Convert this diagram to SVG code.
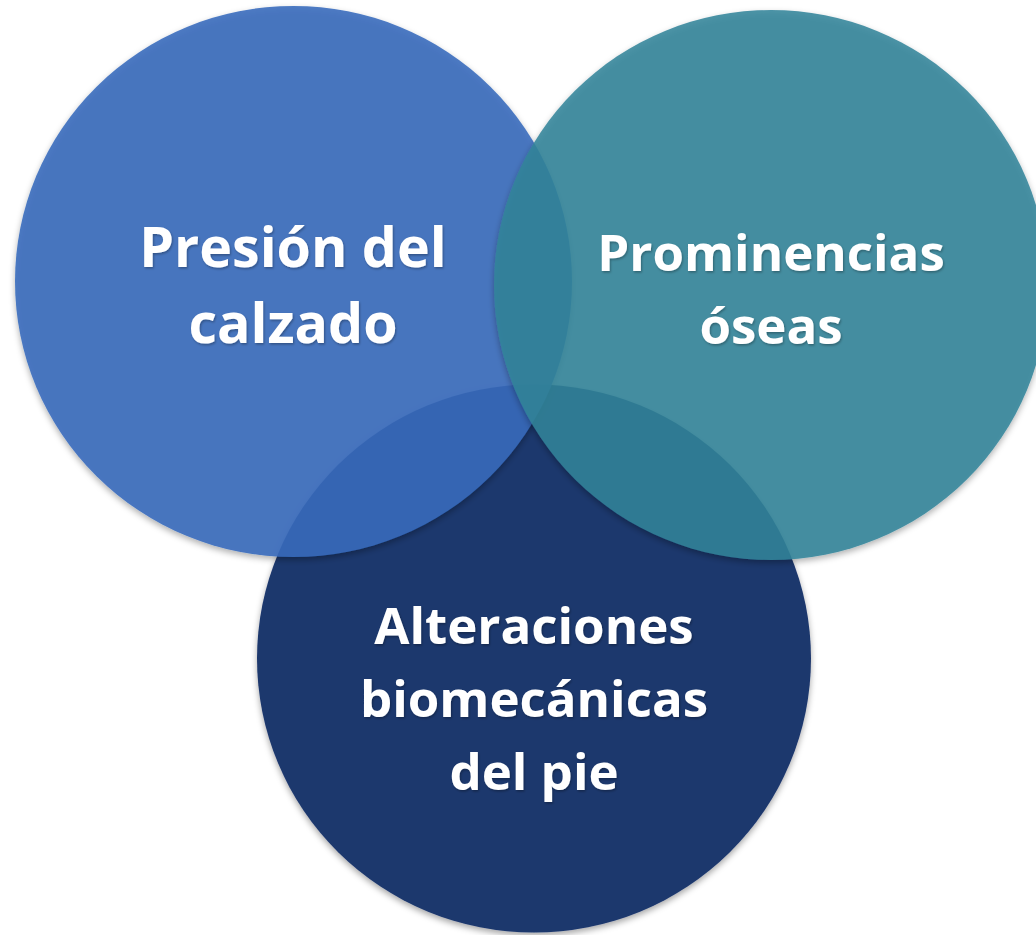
<svg xmlns="http://www.w3.org/2000/svg" width="1036" height="935" viewBox="0 0 1036 935">
<defs>
<filter id="sh" x="-10%" y="-10%" width="120%" height="125%">
<feDropShadow dx="0" dy="3" stdDeviation="3" flood-color="#000" flood-opacity="0.35"/>
</filter>
<filter id="tsh" x="-10%" y="-20%" width="120%" height="150%">
<feDropShadow dx="1" dy="1.5" stdDeviation="1.2" flood-color="#000" flood-opacity="0.3"/>
</filter>
</defs>
<style>
.lbl{font-family:"Open Sans","DejaVu Sans",sans-serif;font-weight:bold;font-size:51px;fill:#ffffff;text-anchor:middle;filter:url(#tsh)}
.big{font-size:55.5px}
</style>
<rect width="1036" height="935" fill="#ffffff"/>
<g id="node-alteraciones">
<ellipse cx="534" cy="658.5" rx="277" ry="274" fill="#1e386d" filter="url(#sh)"/>
</g>
<g id="node-presion">
<ellipse cx="293.5" cy="281.5" rx="278.5" ry="275.5" fill="#376bbc" fill-opacity="0.885" filter="url(#sh)"/>
</g>
<g id="node-prominencias">
<ellipse cx="771" cy="285" rx="277" ry="275" fill="#33849a" fill-opacity="0.865" filter="url(#sh)"/>
</g>
<g id="labels">
<text class="lbl big" x="293" y="267">Presión del</text>
<text class="lbl big" x="293" y="343">calzado</text>
<text class="lbl" x="771" y="271">Prominencias</text>
<text class="lbl" x="771" y="344">óseas</text>
<text class="lbl" x="534" y="644">Alteraciones</text>
<text class="lbl" x="534" y="717">biomecánicas</text>
<text class="lbl" x="534" y="790">del pie</text>
</g>
<g id="connectors"></g>
</svg>
